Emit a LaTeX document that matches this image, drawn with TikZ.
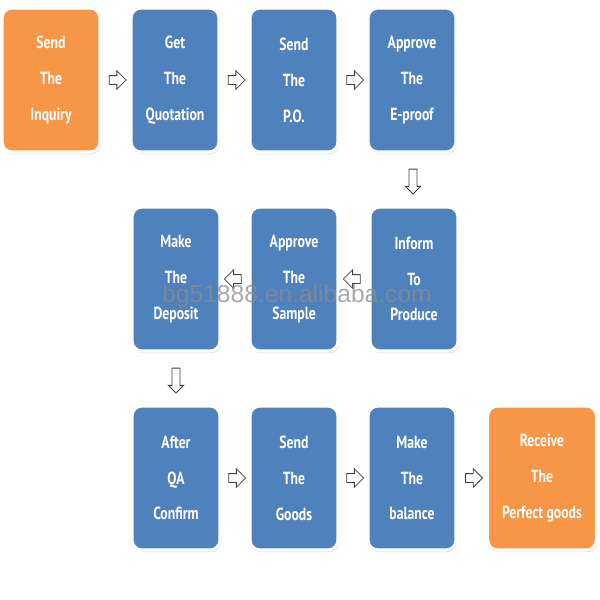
\documentclass[tikz,border=0pt]{standalone}
\usepackage{fontspec}
\usepackage{tikz}
\usetikzlibrary{positioning,calc,shapes.arrows,shadows}

\newfontfamily\boxfont{PT Sans}[FakeStretch=0.78]
\newfontfamily\markfont{Liberation Sans}

\definecolor{stepblue}{RGB}{79,129,189}
\definecolor{steporange}{RGB}{247,150,70}

\tikzset{
  stepbox/.style={rectangle, rounded corners=0.25cm, draw=white, line width=2.2pt,
    fill=stepblue, text=white, align=center, minimum height=3.6cm, minimum width=2.2cm,
    font=\boxfont\bfseries\fontsize{12.5}{25.5}\selectfont,
    drop shadow={shadow xshift=0.8pt, shadow yshift=-1.5pt, fill=black!30}},
  endbox/.style={stepbox, fill=steporange},
  flowarrow/.style={single arrow, draw=black!75, fill=white, line width=0.6pt,
    inner xsep=0pt, inner ysep=0.1cm, minimum height=0.42cm,
    single arrow head extend=0.12cm},
  downarrow/.style={flowarrow, inner xsep=0.09cm, inner ysep=0pt,
    minimum height=0pt, minimum width=0pt, text height=0.5cm,
    single arrow head extend=0.09cm, shape border rotate=270}
}

\begin{document}
\begin{tikzpicture}[x=0.025cm, y=-0.025cm]
    \useasboundingbox (0,0) rectangle (600,600);
    % first row
    \node[endbox, minimum width=2.45cm] (inquiry) at (51,80) {Send\\The\\Inquiry};
    \node[stepbox] (quote) at (175,80) {Get\\The\\Quotation};
    \node[stepbox] (po) at (294,80) {Send\\The\\P.O.};
    \node[stepbox] (eproof) at (412,80) {Approve\\The\\E-proof};
    % second row
    \node[stepbox] (produce) at (414,279) {Inform\\To\\Produce};
    \node[stepbox] (sample) at (294,279) {Approve\\The\\Sample};
    \node[stepbox] (deposit) at (176,279) {Make\\The\\Deposit};
    % third row
    \node[stepbox] (qa) at (176,478) {After\\QA\\Confirm};
    \node[stepbox] (goods) at (294,478) {Send\\The\\Goods};
    \node[stepbox] (balance) at (412,478) {Make\\The\\balance};
    \node[endbox, minimum width=2.72cm] (receive) at (542,478) {Receive\\The\\Perfect goods};
    % arrows between the steps
    \node[flowarrow] (a1) at ($(inquiry.east)!0.5!(quote.west)$) {};
    \node[flowarrow] (a2) at ($(quote.east)!0.5!(po.west)$) {};
    \node[flowarrow] (a3) at ($(po.east)!0.5!(eproof.west)$) {};
    \node[downarrow] (a4) at ($(eproof.south)!0.5!(produce.north)$) {};
    \node[flowarrow, shape border rotate=180] (a5) at ($(produce.west)!0.5!(sample.east)$) {};
    \node[flowarrow, shape border rotate=180] (a6) at ($(sample.west)!0.5!(deposit.east)$) {};
    \node[downarrow] (a7) at ($(deposit.south)!0.5!(qa.north)$) {};
    \node[flowarrow] (a8) at ($(qa.east)!0.5!(goods.west)$) {};
    \node[flowarrow] (a9) at ($(goods.east)!0.5!(balance.west)$) {};
    \node[flowarrow] (a10) at ($(balance.east)!0.5!(receive.west)$) {};
    % watermark
    \node[text=black!45, opacity=0.75, font=\markfont\fontsize{17.5}{20}\selectfont] (mark) at (297,296) {bg51888.en.alibaba.com};
\end{tikzpicture}
\end{document}
